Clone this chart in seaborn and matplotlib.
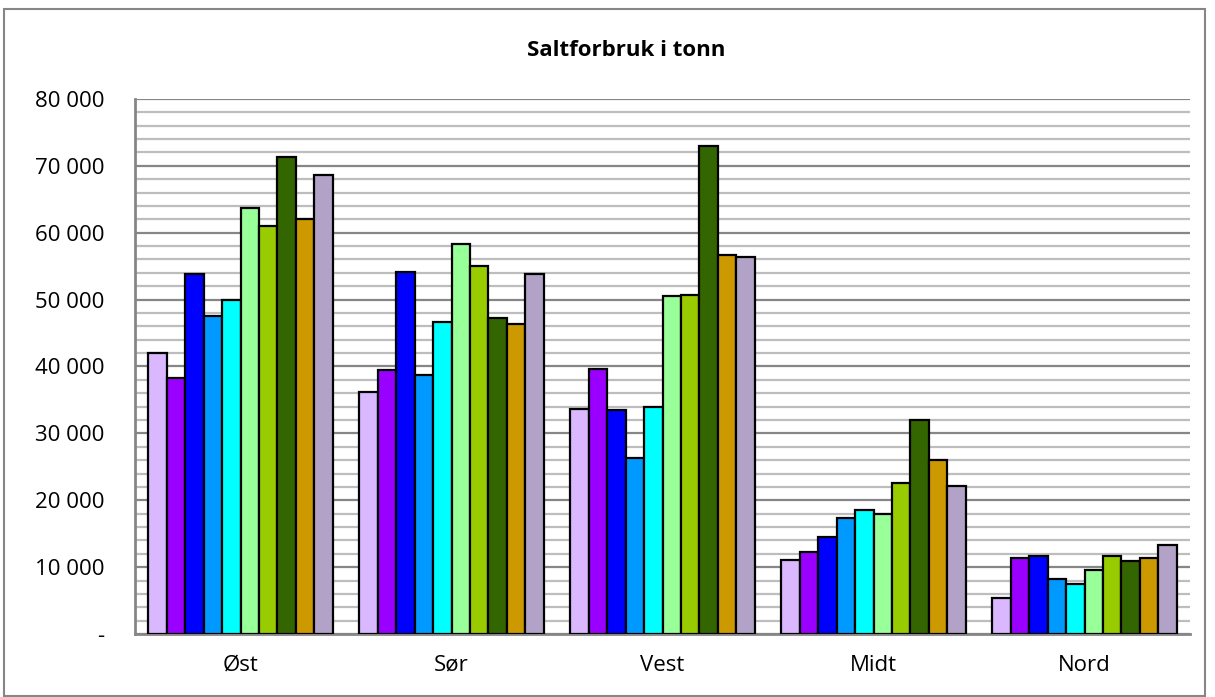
import matplotlib
matplotlib.use("Agg")
import matplotlib.pyplot as plt
import seaborn as sns
import pandas as pd
from matplotlib.patches import Rectangle
from matplotlib.ticker import MultipleLocator, FuncFormatter

regions = ["Øst", "Sør", "Vest", "Midt", "Nord"]
series = ["S1", "S2", "S3", "S4", "S5", "S6", "S7", "S8", "S9", "S10"]
ost = [42000, 38300, 53900, 47500, 50000, 63700, 61000, 71400, 62100, 68700]
sor = [36200, 39500, 54100, 38800, 46600, 58300, 55000, 47300, 46400, 53800]
vest = [33600, 39700, 33500, 26300, 34000, 50600, 50700, 73000, 56700, 56300]
midt = [11100, 12200, 14500, 17400, 18500, 17900, 22600, 32000, 26000, 22100]
nord = [5400, 11300, 11700, 8200, 7500, 9600, 11600, 10900, 11400, 13300]
colors = ["#D9B8FF", "#9900FF", "#0000FF", "#0099FF", "#00FFFF",
          "#99FF99", "#99CC00", "#336600", "#CC9900", "#B2A2C7"]

rows = []
for reg, vals in zip(regions, [ost, sor, vest, midt, nord]):
    for s, v in zip(series, vals):
        rows.append({"region": reg, "series": s, "value": v})
df = pd.DataFrame(rows)

sns.set_theme(style="white")
plt.rcParams['font.family'] = ['Open Sans', 'DejaVu Sans']
plt.rcParams['text.color'] = 'black'
plt.rcParams['xtick.color'] = 'black'
plt.rcParams['ytick.color'] = 'black'

fig = plt.figure(figsize=(12.15, 6.97), dpi=100)
ax = fig.add_axes([135/1215, 1-634/697, (1190-135)/1215, (634-99)/697])

sns.barplot(data=df, x="region", y="value", hue="series", palette=colors,
            width=0.875, edgecolor="black", linewidth=1.6, saturation=1,
            legend=False, ax=ax, zorder=3)

ax.set_ylim(0, 80000)
ax.set_xlim(-0.5, 4.5)
ax.yaxis.set_major_locator(MultipleLocator(10000))
ax.yaxis.set_minor_locator(MultipleLocator(2000))
ax.grid(which="minor", axis="y", color="#BDBDBD", linewidth=1.6, zorder=0)
ax.grid(which="major", axis="y", color="#868686", linewidth=1.6, zorder=0)
ax.set_axisbelow(True)

def fmt(v, pos):
    if v == 0:
        return "-"
    return f"{int(v):,}".replace(",", " ")
ax.yaxis.set_major_formatter(FuncFormatter(fmt))
ax.tick_params(axis="y", labelsize=16, pad=22, length=0, labelcolor="black")
ax.tick_params(axis="x", labelsize=16, pad=15, length=0, labelcolor="black")
ax.set_xlabel("")
ax.set_ylabel("")

for side in ["left", "bottom"]:
    ax.spines[side].set_color("#868686")
    ax.spines[side].set_linewidth(2)
for side in ["top", "right"]:
    ax.spines[side].set_visible(False)

fig.text(626/1215, 1-50/697, "Saltforbruk i tonn", ha="center", va="center",
         fontsize=16, fontweight="bold", color="black")

fig.patches.append(Rectangle((4/1215, 0.002), (1205-4)/1215, 1-9/697-0.002,
                             transform=fig.transFigure, fill=False,
                             edgecolor="#868686", linewidth=1.5))

fig.savefig("out.png", dpi=100)
